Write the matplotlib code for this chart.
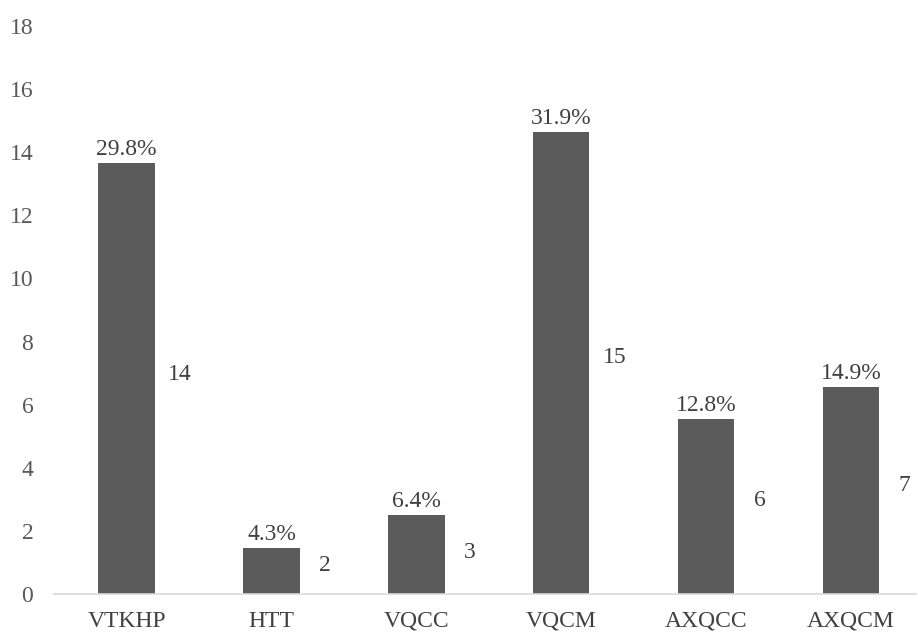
import numpy as np
import matplotlib
matplotlib.use("Agg")
import matplotlib.pyplot as plt

categories = ["VTKHP", "HTT", "VQCC", "VQCM", "AXQCC", "AXQCM"]
bar_heights = [13.65, 1.45, 2.5, 14.65, 5.55, 6.55]
counts = [14, 2, 3, 15, 6, 7]
percent_labels = ["29.8%", "4.3%", "6.4%", "31.9%", "12.8%", "14.9%"]
count_label_y = [6.95, 0.92, 1.33, 7.5, 2.98, 3.45]

plt.rcParams["font.family"] = ["Liberation Serif", "DejaVu Serif"]

fig = plt.figure(figsize=(9.18, 6.34), dpi=100)
ax = fig.add_axes([0.059, 0.063, 0.939, 0.896])

x = np.arange(len(categories))
ax.bar(x, bar_heights, width=0.39, color="#5b5b5b", zorder=2)

for xi, h, p in zip(x, bar_heights, percent_labels):
    ax.text(xi, h + 0.1, p, ha="center", va="bottom", fontsize=17, color="#404040")
for xi, y, c in zip(x, count_label_y, counts):
    ax.text(xi + 0.37, y, str(c), ha="center", va="center", fontsize=17, color="#404040")

ax.set_xlim(-0.5, 5.45)
ax.set_ylim(0, 18)
ax.set_yticks(np.arange(0, 19, 2))
ax.set_xticks(x)
ax.set_xticklabels(categories)
ax.tick_params(axis="y", length=0, pad=15, labelsize=17, labelcolor="#595959")
ax.tick_params(axis="x", length=0, pad=12, labelsize=17, labelcolor="#404040")
for s in ["top", "right", "left"]:
    ax.spines[s].set_visible(False)
ax.spines["bottom"].set_color("#d9d9d9")
ax.spines["bottom"].set_linewidth(1.2)

fig.savefig("out.png", dpi=100)
